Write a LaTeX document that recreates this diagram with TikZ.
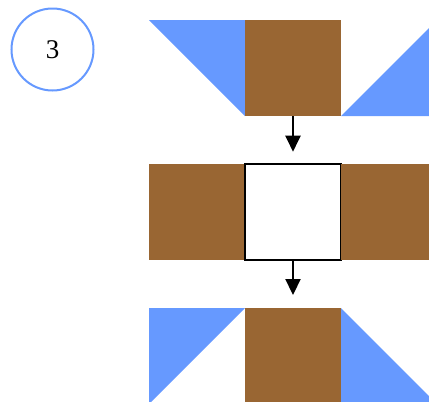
\documentclass[tikz,border=0pt]{standalone}
\usepackage{fontspec}
\setmainfont{Liberation Serif}
\usetikzlibrary{arrows.meta}
\definecolor{tblue}{HTML}{6699FF}
\definecolor{tbrown}{HTML}{996633}
\tikzset{
  cell/.style={minimum size=96pt, inner sep=0pt, outer sep=0pt},
  browncell/.style={cell, fill=tbrown},
  whitecell/.style={cell, fill=white, draw=black, line width=2pt},
  tri/.style={fill=tblue},
  flow/.style={line width=2.2pt, -{Triangle[length=16pt,width=15pt]}},
  badge/.style={circle, draw=tblue, line width=2pt, minimum size=82pt, inner sep=0pt}
}
\begin{document}
\begin{tikzpicture}[x=1pt, y=-1pt]
  \useasboundingbox (0,0) rectangle (429,402);
  \clip (0,0) rectangle (429,402);
  % badge
  \node[badge] (badge) at (52.5,49.5) {\fontsize{27}{32}\selectfont 3};
  % top row
  \fill[tri] (149,20) -- (245,20) -- (245,116) -- cycle;
  \node[browncell] (top) at (293,68) {};
  \fill[tri] (341,116) -- (437,20) -- (437,116) -- cycle;
  % middle row
  \node[browncell] (midl) at (197,212) {};
  \node[whitecell] (mid) at (293,212) {};
  \node[browncell] (midr) at (389,212) {};
  % bottom row
  \fill[tri] (149,308) -- (245,308) -- (149,404) -- cycle;
  \node[browncell] (bot) at (293,356) {};
  \fill[tri] (341,308) -- (437,404) -- (341,404) -- cycle;
  % arrows
  \draw[flow, shorten >=12.3pt] (top.south) -- (mid.north);
  \draw[flow, shorten >=13pt] (mid.south) -- (bot.north);
\end{tikzpicture}
\end{document}
